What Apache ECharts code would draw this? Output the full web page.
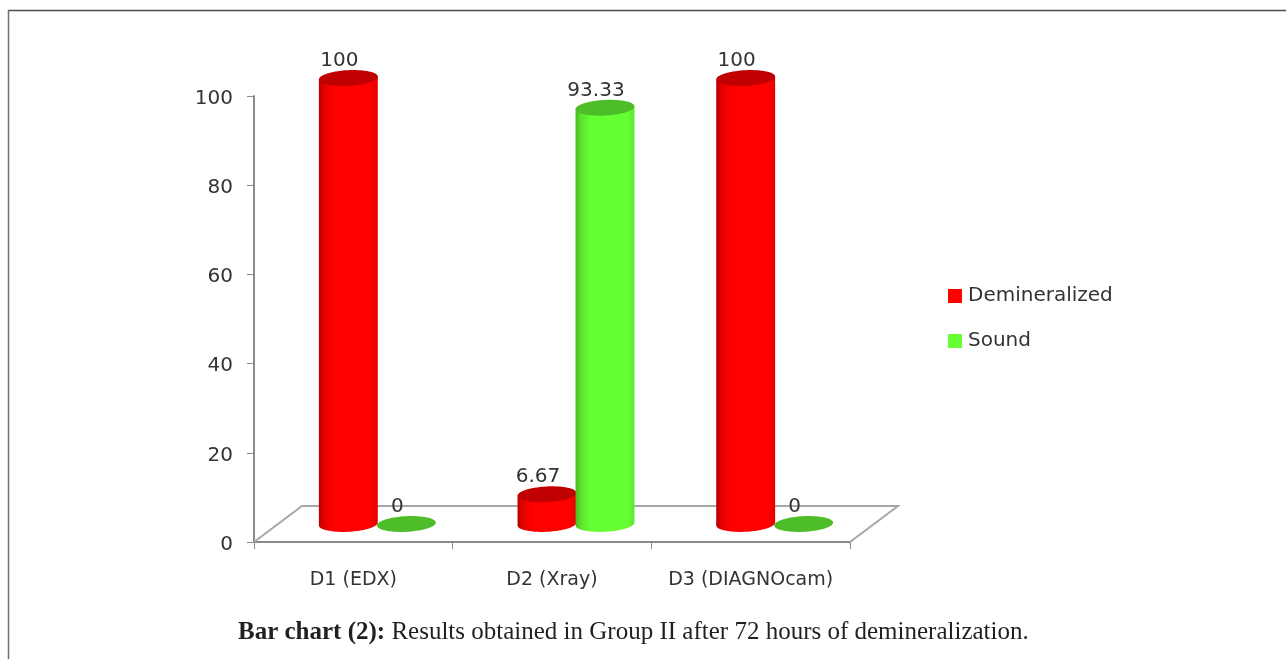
<!DOCTYPE html>
<html>
<head>
<meta charset="utf-8">
<title>Bar chart (2)</title>
<script src="https://cdn.jsdelivr.net/npm/echarts@6/dist/echarts.min.js"></script>
<style>
  html, body { margin: 0; padding: 0; background: #fff; }
  #chart { width: 1286px; height: 659px; }
</style>
</head>
<body>
<div id="chart"></div>
<script>
// Detection results per diagnostic method
const categories = ['D1 (EDX)', 'D2 (Xray)', 'D3 (DIAGNOcam)'];
const demineralized = [100, 6.67, 100];
const sound = [0, 93.33, 0];

const LABEL_FONT = '"DejaVu Sans", sans-serif';
const TEXT_COLOR = '#333333';
const AXIS_COLOR = '#8a8a8a';

// Pseudo-3D projection of the floor plane and cylinders
const DEPTH_X = 48;
const DEPTH_Y = -36;
const RADIUS_X = 29.5;
const RADIUS_Y = 7.8;
const TILT = -3 * Math.PI / 180;

function ellipsePoint(cx, cy, t) {
  const ex = RADIUS_X * Math.cos(t);
  const ey = RADIUS_Y * Math.sin(t);
  return [
    cx + ex * Math.cos(TILT) - ey * Math.sin(TILT),
    cy + ex * Math.sin(TILT) + ey * Math.cos(TILT)
  ];
}

function ellipseOutline(cx, cy) {
  const pts = [];
  for (let i = 0; i < 72; i++) pts.push(ellipsePoint(cx, cy, i / 72 * Math.PI * 2));
  return pts;
}

// Walls of the cylinder: top rim's right end, down the side, round the front of the base, back up
function sidePolygon(cx, topY, baseY) {
  const pts = [ellipsePoint(cx, topY, 0)];
  for (let i = 0; i <= 48; i++) pts.push(ellipsePoint(cx, baseY, i / 48 * Math.PI));
  pts.push(ellipsePoint(cx, topY, Math.PI));
  return pts;
}

function cylinderSeries(name, values, barOffset, palette) {
  return {
    type: 'custom',
    name: name,
    itemStyle: { color: palette.main },
    encode: { x: 0, y: 1 },
    data: values.map((v, i) => [i, v]),
    z: 3,
    renderItem: function (params, api) {
      const value = api.value(1);
      const top = api.coord([api.value(0), value]);
      const base = api.coord([api.value(0), 0]);
      const cx = top[0] + DEPTH_X / 2 + barOffset;
      const topY = top[1] + DEPTH_Y / 2;
      const baseY = base[1] + DEPTH_Y / 2;
      const children = [];
      if (value > 0) {
        children.push({
          type: 'polygon',
          shape: { points: sidePolygon(cx, topY, baseY) },
          style: {
            fill: new echarts.graphic.LinearGradient(0, 0, 1, 0, [
              { offset: 0, color: palette.edge },
              { offset: 0.1, color: palette.shade },
              { offset: 0.26, color: palette.main },
              { offset: 0.88, color: palette.main },
              { offset: 1, color: palette.shade }
            ])
          }
        });
      }
      children.push({
        type: 'polygon',
        shape: { points: ellipseOutline(cx, topY) },
        style: { fill: palette.cap }
      });
      children.push({
        type: 'text',
        style: {
          text: String(value),
          x: cx - 9,
          y: topY - 17,
          align: 'center',
          verticalAlign: 'middle',
          fontFamily: LABEL_FONT,
          fontSize: 20,
          fill: TEXT_COLOR
        }
      });
      return { type: 'group', children: children };
    }
  };
}

const floorSeries = {
  type: 'custom',
  silent: true,
  encode: { x: 0, y: 1 },
  data: [[0, 0]],
  z: 1,
  renderItem: function (params, api) {
    const first = api.coord([0, 0]);
    const last = api.coord([categories.length - 1, 0]);
    const half = api.size([1, 0])[0] / 2;
    const left = first[0] - half;
    const right = last[0] + half;
    const y = first[1];
    return {
      type: 'polyline',
      shape: {
        points: [
          [left, y],
          [left + DEPTH_X, y + DEPTH_Y],
          [right + DEPTH_X, y + DEPTH_Y],
          [right, y]
        ]
      },
      style: { stroke: '#a6a6a6', lineWidth: 2, fill: null }
    };
  }
};

const chart = echarts.init(document.getElementById('chart'), null, { renderer: 'canvas' });

chart.setOption({
  animation: false,
  backgroundColor: '#ffffff',
  grid: { left: 254, right: 436, top: 96, bottom: 117 },
  legend: {
    orient: 'vertical',
    left: 943,
    top: 281,
    itemWidth: 14,
    itemHeight: 14,
    itemGap: 25,
    icon: 'rect',
    data: ['Demineralized', 'Sound'],
    textStyle: { fontFamily: LABEL_FONT, fontSize: 20, color: TEXT_COLOR, padding: [0, 0, 0, 1] }
  },
  xAxis: {
    type: 'category',
    data: categories,
    boundaryGap: true,
    axisLine: { lineStyle: { color: AXIS_COLOR, width: 2 } },
    axisTick: { show: true, interval: 0, alignWithLabel: false, length: 7, lineStyle: { color: AXIS_COLOR, width: 1 } },
    axisLabel: { interval: 0, margin: 29, fontFamily: LABEL_FONT, fontSize: 19, color: TEXT_COLOR },
    splitLine: { show: false }
  },
  yAxis: {
    type: 'value',
    min: 0,
    max: 100,
    interval: 20,
    axisLine: { show: true, lineStyle: { color: AXIS_COLOR, width: 2 } },
    axisTick: { show: true, length: 7, lineStyle: { color: AXIS_COLOR, width: 1 } },
    axisLabel: {
      margin: 21,
      formatter: '{tick|{value}}',
      rich: {
        tick: { fontFamily: LABEL_FONT, fontSize: 20, color: TEXT_COLOR, padding: [5, 0, 0, 0] }
      }
    },
    splitLine: { show: false }
  },
  graphic: [
    {
      type: 'line', silent: true,
      shape: { x1: 8, y1: 10.5, x2: 1286, y2: 10.5 },
      style: { stroke: '#4d4d4d', lineWidth: 1.5 }
    },
    {
      type: 'line', silent: true,
      shape: { x1: 8.5, y1: 10, x2: 8.5, y2: 659 },
      style: { stroke: '#6e6e6e', lineWidth: 1.5 }
    },
    {
      type: 'text', silent: true,
      left: 238,
      top: 620,
      style: {
        rich: {
          b: { fontFamily: '"Liberation Serif", serif', fontWeight: 'bold', fontSize: 25, fill: '#231f20' },
          r: { fontFamily: '"Liberation Serif", serif', fontSize: 25, fill: '#231f20' }
        },
        text: '{b|Bar chart (2):}{r| Results obtained in Group II after 72 hours of demineralization.}'
      }
    }
  ],
  series: [
    floorSeries,
    cylinderSeries('Demineralized', demineralized, -29, {
      main: '#ff0000', shade: '#e60000', edge: '#b80000', cap: '#c00000'
    }),
    cylinderSeries('Sound', sound, 29, {
      main: '#66ff33', shade: '#5ce62e', edge: '#48b824', cap: '#4dbd28'
    })
  ]
});
</script>
</body>
</html>
